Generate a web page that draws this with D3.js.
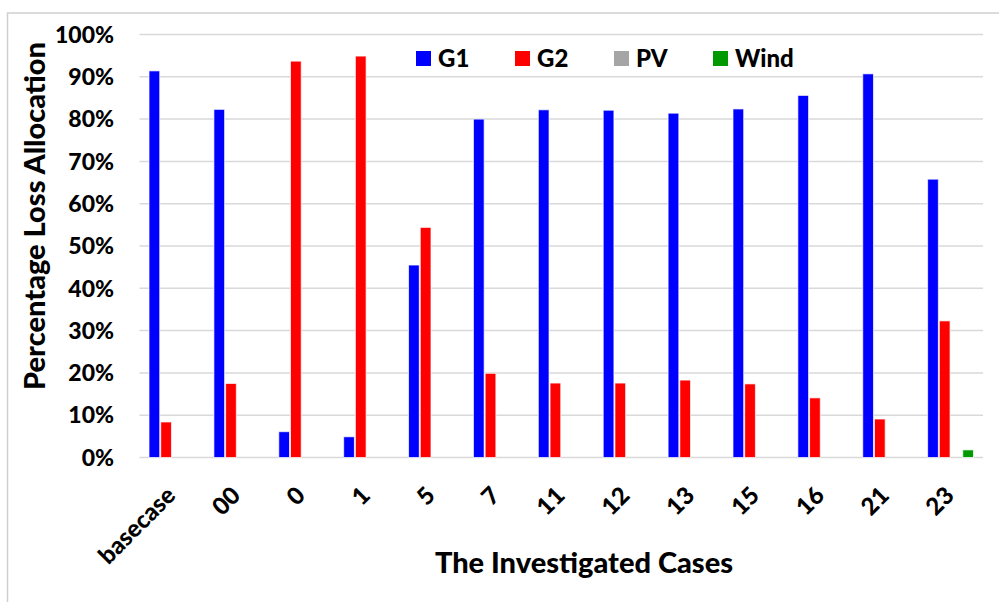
<!DOCTYPE html>
<html lang="en">
<head>
<meta charset="UTF-8">
<title>Percentage Loss Allocation</title>
<script src="https://d3js.org/d3.v7.min.js"></script>
<style>
body {
  margin: 0;
  background: #fff;
}
text {
  font-family: Lato, "Open Sans", sans-serif;
  font-weight: 900;
  fill: #000;
}
.grid line {
  stroke: #d9d9d9;
  stroke-width: 1.5px;
}
</style>
</head>
<body>
<div id="chart"></div>
<script>
// cases on the x axis
var cases = ["basecase", "00", "0", "1", "5", "7", "11", "12", "13", "15", "16", "21", "23"];
var seriesNames = ["G1", "G2", "PV", "Wind"];
var seriesColors = ["#0000ff", "#ff0000", "#a5a5a5", "#009a00"];

// values in percent
var g1   = [91.4, 82.3, 6.1, 4.9, 45.5, 80.0, 82.2, 82.1, 81.4, 82.4, 85.6, 90.7, 65.8];
var g2   = [8.4, 17.5, 93.7, 94.9, 54.4, 19.9, 17.6, 17.6, 18.3, 17.4, 14.1, 9.1, 32.3];
var pv   = [0, 0, 0, 0, 0, 0, 0, 0, 0, 0, 0, 0, 0];
var wind = [0, 0, 0, 0, 0, 0, 0, 0, 0, 0, 0, 0, 1.8];
var yTicks = [0, 10, 20, 30, 40, 50, 60, 70, 80, 90, 100];

var allSeries = [g1, g2, pv, wind];

var W = 999, H = 602;
var plot = {left: 139.5, right: 983, top: 34.5, bottom: 457.5};

var svg = d3.select("#chart").append("svg")
    .attr("width", W)
    .attr("height", H);

// chart area frame (cut off at right and bottom like the original)
svg.append("rect")
    .attr("x", 7.5).attr("y", 13)
    .attr("width", 1100).attr("height", 700)
    .attr("fill", "none")
    .attr("stroke", "#cfcfcf")
    .attr("stroke-width", 1.5);

var x0 = d3.scaleBand().domain(cases).range([plot.left, plot.right]).padding(0);
var x1 = d3.scaleBand().domain(seriesNames).range([0, x0.bandwidth()])
    .paddingInner(0).paddingOuter(0.77);
var y = d3.scaleLinear().domain([0, 100]).range([plot.bottom, plot.top]);

// gridlines
svg.append("g").attr("class", "grid")
  .selectAll("line").data(yTicks).join("line")
    .attr("x1", plot.left).attr("x2", plot.right)
    .attr("y1", function(d) { return y(d); })
    .attr("y2", function(d) { return y(d); });

// y tick labels
svg.append("g")
  .selectAll("text").data(yTicks).join("text")
    .attr("x", 114)
    .attr("y", function(d) { return y(d); })
    .attr("dy", "0.36em")
    .attr("text-anchor", "end")
    .style("font-size", "23px")
    .text(function(d) { return d + "%"; });

// bars
var groups = svg.append("g").selectAll("g").data(cases).join("g")
    .attr("transform", function(d) { return "translate(" + x0(d) + ",0)"; });

groups.selectAll("rect")
  .data(function(c, i) {
    return seriesNames.map(function(s, j) { return {s: s, j: j, v: allSeries[j][i]}; })
      .filter(function(d) { return d.v > 0; });
  })
  .join("rect")
    .attr("x", function(d) { return x1(d.s) + 0.5; })
    .attr("width", x1.bandwidth() - 1)
    .attr("y", function(d) { return y(d.v); })
    .attr("height", function(d) { return y(0) - y(d.v); })
    .attr("fill", function(d) { return seriesColors[d.j]; })
    .attr("stroke", "#fff")
    .attr("stroke-opacity", 0.7)
    .attr("stroke-width", 1);

// x labels
svg.append("g")
  .selectAll("text").data(cases).join("text")
    .attr("transform", function(d) {
      return "translate(" + (x0(d) + x0.bandwidth() / 2 + 5) + ",497) rotate(-45)";
    })
    .attr("text-anchor", "end")
    .style("font-size", "24px")
    .text(function(d) { return d; });

// axis titles
svg.append("text")
    .attr("x", 584).attr("y", 573)
    .attr("text-anchor", "middle")
    .style("font-size", "29px")
    .text("The Investigated Cases");

svg.append("text")
    .attr("transform", "translate(45,216) rotate(-90)")
    .attr("text-anchor", "middle")
    .style("font-size", "29px")
    .text("Percentage Loss Allocation");

// legend
var legend = svg.append("g").selectAll("g").data(seriesNames).join("g")
    .attr("transform", function(d, i) { return "translate(" + (416 + i * 99) + ",51)"; });

legend.append("rect")
    .attr("width", 15).attr("height", 15)
    .attr("fill", function(d, i) { return seriesColors[i]; });

legend.append("text")
    .attr("x", 22).attr("y", 15.5)
    .style("font-size", "24px")
    .text(function(d) { return d; });
</script>
</body>
</html>
